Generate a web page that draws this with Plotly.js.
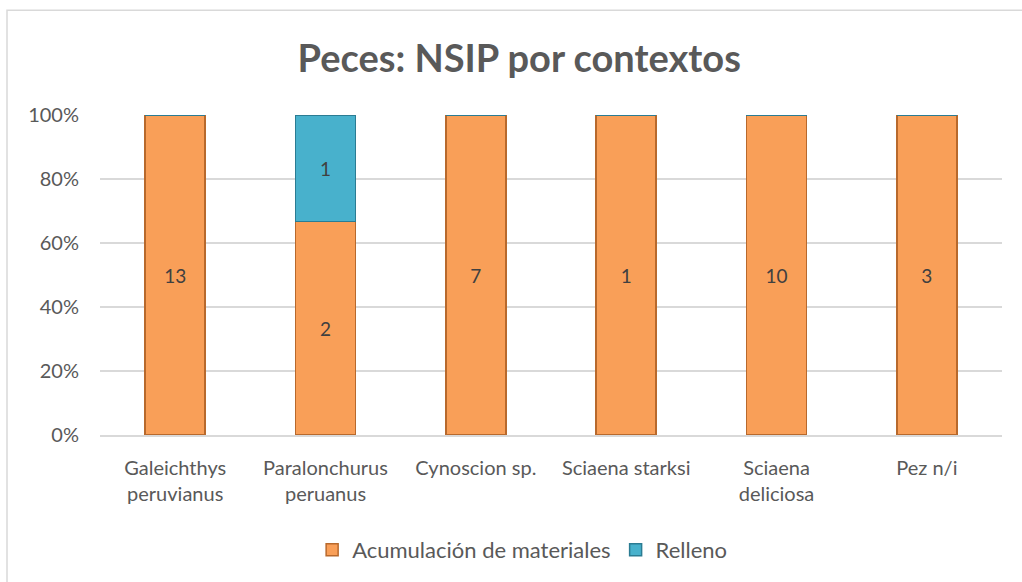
<!DOCTYPE html>
<html>
<head>
<meta charset="utf-8">
<script src="https://cdn.plot.ly/plotly-3.0.1.min.js"></script>
<style>
  html, body { margin: 0; padding: 0; background: #fff; }
  #chart { width: 1022px; height: 582px; }
</style>
</head>
<body>
<div id="chart"></div>
<script>
const species = ["Galeichthys<br>peruvianus", "Paralonchurus<br>peruanus", "Cynoscion sp.", "Sciaena starksi", "Sciaena<br>deliciosa", "Pez n/i"];
const acumulacion = [13, 2, 7, 1, 10, 3];
const relleno = [0, 1, 0, 0, 0, 0];
const pctTicks = [0, 20, 40, 60, 80, 100];

const labelFont = {family: "Lato, 'Open Sans', sans-serif", size: 19, color: "#404040"};

const traces = [
  {
    x: species,
    y: acumulacion,
    type: "bar",
    name: "Acumulación de materiales",
    text: acumulacion.map(v => v > 0 ? String(v) : ""),
    textposition: "inside",
    insidetextanchor: "middle",
    textfont: labelFont,
    marker: {color: "#F99F58", line: {color: "#B8692C", width: 1.5}},
    width: 0.4,
    hoverinfo: "none"
  },
  {
    x: species,
    y: relleno,
    type: "bar",
    name: "Relleno",
    text: relleno.map(v => v > 0 ? String(v) : ""),
    textposition: "inside",
    insidetextanchor: "middle",
    textfont: labelFont,
    marker: {color: "#48B1CC", line: {color: "#2B7C93", width: 1.5}},
    width: 0.4,
    hoverinfo: "none"
  }
];

const layout = {
  width: 1022,
  height: 582,
  margin: {l: 100, r: 20, t: 115, b: 146},
  paper_bgcolor: "#ffffff",
  plot_bgcolor: "#ffffff",
  barmode: "stack",
  barnorm: "percent",
  font: {family: "Lato, 'Open Sans', sans-serif", size: 20, color: "#595959"},
  title: {
    text: "<b>Peces: NSIP por contextos</b>",
    font: {family: "Lato, 'Open Sans', sans-serif", size: 38, color: "#595959"},
    x: 0.508, xref: "container", xanchor: "center",
    y: 0.9, yref: "container", yanchor: "middle"
  },
  xaxis: {
    showgrid: false,
    showline: true,
    linecolor: "#D9D9D9",
    linewidth: 1.5,
    ticks: "",
    ticklabelstandoff: 14,
    tickfont: {size: 20, color: "#595959"},
    fixedrange: true
  },
  yaxis: {
    range: [0, 100],
    tickmode: "array",
    tickvals: pctTicks,
    ticktext: pctTicks.map(v => v + "%"),
    showgrid: true,
    gridcolor: "#D9D9D9",
    gridwidth: 1.5,
    zeroline: false,
    ticks: "",
    ticklabelstandoff: 20,
    tickfont: {size: 20, color: "#595959"},
    fixedrange: true
  },
  legend: {
    orientation: "h",
    x: 0.468, xanchor: "center",
    y: -0.355, yanchor: "middle",
    font: {size: 22, color: "#595959"},
    itemwidth: 30,
    traceorder: "normal"
  },
  shapes: [{
    type: "rect",
    xref: "paper", yref: "paper",
    x0: -93 / 902, x1: 1.05,
    y0: -0.6, y1: 105 / 321 + 1,
    line: {color: "#D9D9D9", width: 1.5},
    layer: "below"
  }],
  showlegend: true
};

Plotly.newPlot("chart", traces, layout, {displayModeBar: false, staticPlot: true});
</script>
</body>
</html>
